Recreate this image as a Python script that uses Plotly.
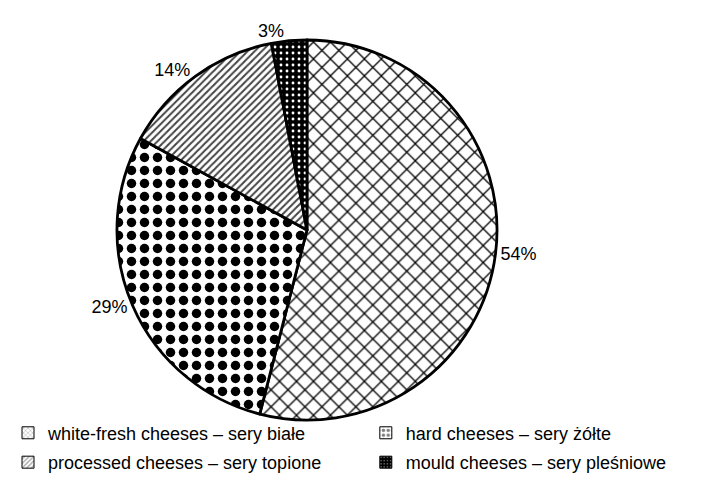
import plotly.graph_objects as go

categories = ["white-fresh cheeses – sery białe", "hard cheeses – sery żółte",
              "processed cheeses – sery topione", "mould cheeses – sery pleśniowe"]
values = [54, 29, 14, 3]
value_labels = ["54%", "29%", "14%", "3%"]

# pattern styling per category
pat_shape = ["x", ".", "/", "."]
pat_fg = ["black", "black", "#444444", "white"]
pat_bg = ["white", "white", "white", "black"]
pat_size = [12, 13, 5, 6]
pat_solid = [0.2, 0.42, 0.4, 0.18]
legend_ids = ["legend", "legend2", "legend", "legend2"]

FONT = "Liberation Sans, Arial, sans-serif"

fig = go.Figure()
fig.add_trace(go.Pie(
    labels=categories,
    values=values,
    text=value_labels,
    texttemplate="%{text}",
    textposition="outside",
    sort=False,
    direction="clockwise",
    rotation=0,
    showlegend=False,
    hoverinfo="label+text",
    marker=dict(
        colors=pat_bg,
        line=dict(color="black", width=2.8),
        pattern=dict(shape=pat_shape, fgcolor=pat_fg, bgcolor=pat_bg,
                     size=pat_size, solidity=pat_solid),
    ),
    textfont=dict(family=FONT, size=18, color="black"),
    domain=dict(x=[0.155, 0.6956], y=[0.1398, 0.9332]),
))

# legend entries (legend-only dummy traces carrying the same patterns)
for i, cat in enumerate(categories):
    fig.add_trace(go.Bar(
        x=[None], y=[None], name=cat,
        legend=legend_ids[i], legendgroup=str(i),
        marker=dict(color=pat_bg[i], line=dict(color="black", width=1),
                    pattern=dict(shape=pat_shape[i], fgcolor=pat_fg[i], bgcolor=pat_bg[i],
                                 size=4 if i != 1 else 6, solidity=pat_solid[i])),
        hoverinfo="skip",
    ))

leg_common = dict(orientation="v", yanchor="bottom", y=0.0134, xanchor="left",
                  font=dict(family=FONT, size=18, color="black"),
                  tracegroupgap=3, bgcolor="rgba(0,0,0,0)")

fig.update_layout(
    width=703, height=479,
    margin=dict(l=0, r=0, t=0, b=0),
    paper_bgcolor="white",
    plot_bgcolor="white",
    font=dict(family=FONT, size=18, color="black"),
    xaxis=dict(visible=False),
    yaxis=dict(visible=False),
    legend=dict(x=0.0, **leg_common),
    legend2=dict(x=0.509, **leg_common),
    showlegend=True,
)

fig.write_html("out.html")
